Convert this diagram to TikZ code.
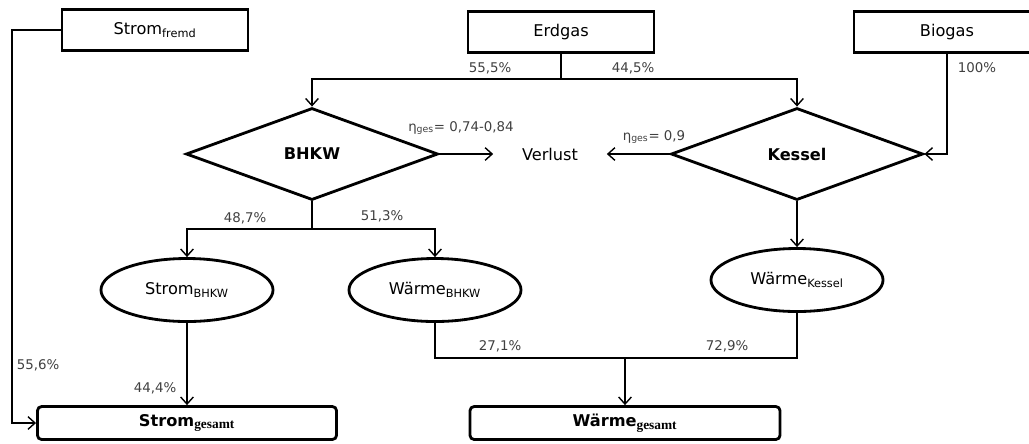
\documentclass[tikz,border=0pt]{standalone}
\usepackage{amsmath}
\usepackage{fontspec}
\setmainfont{DejaVu Sans}
\newfontfamily\serifsub{Liberation Serif}
\usepackage{tikz}
\usetikzlibrary{shapes.geometric, arrows.meta}

\begin{document}
\begin{tikzpicture}[x=0.025cm, y=-0.025cm,
	box/.style={draw, line width=2pt, minimum width=4.65cm, minimum height=1.025cm, font=\fontsize{11.5}{13}\selectfont},
	res/.style={draw, line width=2pt, rounded corners=3pt, minimum height=0.825cm, font=\fontsize{11.5}{13}\selectfont\bfseries},
	dia/.style={draw, diamond, line width=2pt, minimum width=6.3cm, minimum height=2.3cm, inner sep=0pt, font=\fontsize{11.5}{13}\selectfont\bfseries},
	ell/.style={draw, ellipse, line width=2pt, minimum width=4.3cm, minimum height=1.575cm, font=\fontsize{11.5}{13}\selectfont},
	pct/.style={font=\fontsize{9.5}{11}\selectfont, text=black!75},
	conn/.style={draw, line width=1pt},
	arr/.style={conn, -{Straight Barb[length=5pt, width=9pt]}}]
				\useasboundingbox (0,0) rectangle (1029,443);
				\node[box] (fremd) at (155,30) {Strom\textsubscript{fremd}};
				\node[box] (erdgas) at (561,32) {Erdgas};
				\node[box] (biogas) at (947,32) {Biogas};
				\node[dia] (bhkw) at (312,154) {BHKW};
				\node[dia] (kessel) at (797,154) {Kessel};
				\node[font=\fontsize{11.5}{13}\selectfont] (verlust) at (550,154) {Verlust};
				\node[ell] (sbhkw) at (187,290) {Strom\textsubscript{BHKW}};
				\node[ell] (wbhkw) at (435,290) {Wärme\textsubscript{BHKW}};
				\node[ell] (wkessel) at (797,280) {Wärme\textsubscript{Kessel}};
				\node[res, minimum width=7.475cm] (sgesamt) at (187,423) {Strom\textsubscript{\serifsub\bfseries\fontsize{9.5}{10}\selectfont gesamt}};
				\node[res, minimum width=7.75cm] (wgesamt) at (625,423) {Wärme\textsubscript{\serifsub\bfseries\fontsize{9.5}{10}\selectfont gesamt}};
				\coordinate (eg) at (561,79);
				\coordinate (bs) at (312,229);
				\coordinate (wm) at (625,358);
				\coordinate (fl) at (12,30);
				\draw[conn] (erdgas) -- (eg);
				\draw[arr] (eg) -| (bhkw.north);
				\draw[arr] (eg) -| (kessel.north);
				\draw[arr] (biogas) |- (kessel.east);
				\draw[arr, shorten >=17pt] (bhkw.east) -- (verlust.west);
				\draw[arr, shorten >=17pt] (kessel.west) -- (verlust.east);
				\draw[conn] (bhkw.south) -- (bs);
				\draw[arr] (bs) -| (sbhkw.north);
				\draw[arr] (bs) -| (wbhkw.north);
				\draw[arr] (kessel.south) -- (wkessel.north);
				\draw[arr] (sbhkw) -- (sgesamt);
				\draw[arr] (fremd.west) -- (fl) |- (sgesamt.west);
				\draw[conn] (wbhkw.south) |- (wm) -| (wkessel.south);
				\draw[arr] (wm) -- (wgesamt.north);
				\node[pct] (l555) at (490,68) {55,5\%};
				\node[pct] (l445) at (633,68) {44,5\%};
				\node[pct] (l100) at (977,68) {100\%};
				\node[pct] (etab) at (461,128) {η\textsubscript{ges}= 0,74-0,84};
				\node[pct] (etak) at (654,137) {η\textsubscript{ges}= 0,9};
				\node[pct] (l487) at (245,218) {48,7\%};
				\node[pct] (l513) at (382,216) {51,3\%};
				\node[pct] (l556) at (38,365) {55,6\%};
				\node[pct] (l444) at (155,388) {44,4\%};
				\node[pct] (l271) at (500,346) {27,1\%};
				\node[pct] (l729) at (727,346) {72,9\%};
			\end{tikzpicture}
\end{document}
